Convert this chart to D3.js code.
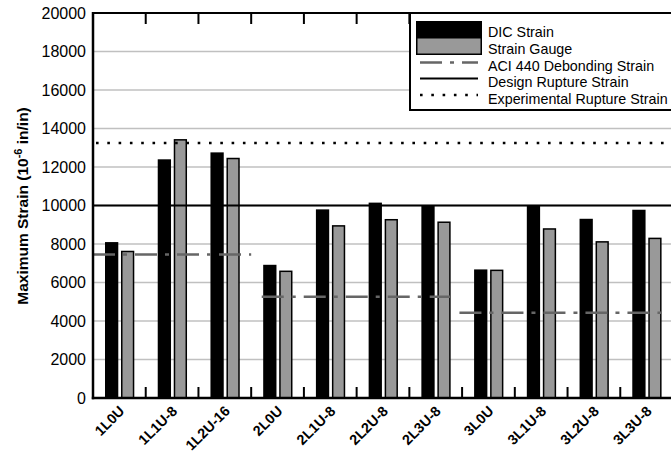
<!DOCTYPE html>
<html>
<head>
<meta charset="utf-8">
<script src="https://cdn.jsdelivr.net/npm/d3@7/dist/d3.min.js"></script>
<style>
  html, body { margin: 0; padding: 0; background: #fff; }
  svg { display: block; font-family: "Liberation Sans", Arial, sans-serif; }
</style>
</head>
<body>
<svg id="chart" width="671" height="453"></svg>
<script>
// Specimen names along the x axis
const categories = ["1L0U", "1L1U-8", "1L2U-16", "2L0U", "2L1U-8", "2L2U-8", "2L3U-8", "3L0U", "3L1U-8", "3L2U-8", "3L3U-8"];

// Maximum strain (microstrain) per specimen
const dicStrain   = [8100, 12400, 12760, 6920, 9800, 10150, 9980, 6680, 10000, 9310, 9780];
const gaugeStrain = [7650, 13450, 12480, 6620, 8980, 9300, 9170, 6670, 8820, 8150, 8330];

// ACI 440 debonding strain, one level per group of specimens (start/end in category units)
const aciStart = [0, 3.2, 6.95];
const aciEnd   = [3.0, 6.77, 10.82];
const aciValue = [7460, 5260, 4430];

// Horizontal reference levels
const designRupture = 10000;
const experimentalRupture = 13250;

// Axis ticks
const yTicks = [0, 2000, 4000, 6000, 8000, 10000, 12000, 14000, 16000, 18000, 20000];

const legendLabels = ["DIC Strain", "Strain Gauge", "ACI 440 Debonding Strain", "Design Rupture Strain", "Experimental Rupture Strain"];

const svg = d3.select("#chart");
const plotLeft = 93, plotRight = 673, plotTop = 13, plotBottom = 398;

const y = d3.scaleLinear().domain([0, 20000]).range([plotBottom, plotTop]);
const x = d3.scaleBand().domain(categories).range([plotLeft, plotRight]).padding(0);
const xc = d3.scaleLinear().domain([0, categories.length]).range([plotLeft, plotRight]);
const xs = d3.scaleBand().domain(["dic", "gauge"]).range([12, 41.3]).paddingInner(0.17);

// Gridlines
svg.append("g")
  .selectAll("line")
  .data(yTicks.filter(t => t > 0 && t < 20000))
  .join("line")
  .attr("x1", plotLeft).attr("x2", plotRight)
  .attr("y1", d => y(d)).attr("y2", d => y(d))
  .attr("stroke", "#c0c0c0").attr("stroke-width", 1.5);

// Y tick labels
svg.append("g")
  .selectAll("text")
  .data(yTicks)
  .join("text")
  .attr("x", 86).attr("y", d => y(d) + 5.8)
  .attr("text-anchor", "end")
  .attr("font-size", 16)
  .attr("fill", "#000")
  .text(d => d);

// Bars
const bars = svg.append("g");
bars.selectAll("rect.dic")
  .data(dicStrain)
  .join("rect")
  .attr("class", "dic")
  .attr("x", (d, i) => x(categories[i]) + xs("dic"))
  .attr("width", xs.bandwidth())
  .attr("y", d => y(d))
  .attr("height", d => plotBottom - y(d))
  .attr("fill", "#000");

bars.selectAll("rect.gauge")
  .data(gaugeStrain)
  .join("rect")
  .attr("class", "gauge")
  .attr("x", (d, i) => x(categories[i]) + xs("gauge") + 0.75)
  .attr("width", xs.bandwidth() - 1.5)
  .attr("y", d => y(d) + 0.75)
  .attr("height", d => plotBottom - y(d) - 0.75)
  .attr("fill", "#999999")
  .attr("stroke", "#000")
  .attr("stroke-width", 1.5);

// Reference lines
svg.append("line")
  .attr("x1", plotLeft).attr("x2", plotRight)
  .attr("y1", y(designRupture)).attr("y2", y(designRupture))
  .attr("stroke", "#000").attr("stroke-width", 2);

svg.append("line")
  .attr("x1", plotLeft + 3).attr("x2", plotRight)
  .attr("y1", y(experimentalRupture)).attr("y2", y(experimentalRupture))
  .attr("stroke", "#000").attr("stroke-width", 2.6)
  .attr("stroke-dasharray", "2.6,8.7");

svg.append("g")
  .selectAll("line")
  .data(aciValue)
  .join("line")
  .attr("x1", (d, i) => xc(aciStart[i]))
  .attr("x2", (d, i) => xc(aciEnd[i]))
  .attr("y1", d => y(d)).attr("y2", d => y(d))
  .attr("stroke", "#666").attr("stroke-width", 2.5)
  .attr("stroke-dasharray", "22,8,4,8");

// Frame: top border, left and bottom axes
svg.append("line").attr("x1", plotLeft).attr("x2", plotRight).attr("y1", plotTop).attr("y2", plotTop)
  .attr("stroke", "#000").attr("stroke-width", 2);
svg.append("line").attr("x1", plotLeft).attr("x2", plotLeft).attr("y1", plotTop - 1).attr("y2", plotBottom + 1.2)
  .attr("stroke", "#000").attr("stroke-width", 2.5);
svg.append("line").attr("x1", plotLeft - 1.2).attr("x2", plotRight).attr("y1", plotBottom).attr("y2", plotBottom)
  .attr("stroke", "#000").attr("stroke-width", 2.5);

// Inward tick marks between categories, on bottom and top
const boundaries = categories.slice(1).map(c => x(c));
svg.append("g").selectAll("line").data(boundaries).join("line")
  .attr("x1", d => d).attr("x2", d => d)
  .attr("y1", plotBottom).attr("y2", plotBottom - 11)
  .attr("stroke", "#000").attr("stroke-width", 2);
svg.append("g").selectAll("line").data(boundaries).join("line")
  .attr("x1", d => d).attr("x2", d => d)
  .attr("y1", plotTop).attr("y2", plotTop + 11)
  .attr("stroke", "#000").attr("stroke-width", 2);

// X labels, rotated
svg.append("g")
  .selectAll("text")
  .data(categories)
  .join("text")
  .attr("transform", d => `translate(${x(d) + x.bandwidth() / 2 + 6},${plotBottom + 14}) rotate(-45)`)
  .attr("text-anchor", "end")
  .attr("font-size", 14.3)
  .attr("font-weight", "bold")
  .text(d => d);

// Y axis title
const yTitle = svg.append("text")
  .attr("transform", `translate(27.5,206) rotate(-90)`)
  .attr("text-anchor", "middle")
  .attr("font-size", 15.5)
  .attr("font-weight", "bold");
yTitle.append("tspan").text("Maximum Strain (10");
yTitle.append("tspan").attr("dy", -6).attr("font-size", 11).text("-6");
yTitle.append("tspan").attr("dy", 6).text(" in/in)");

// Legend
const lg = svg.append("g");
lg.append("rect").attr("x", 410).attr("y", plotTop).attr("width", 290).attr("height", 97)
  .attr("fill", "#fff").attr("stroke", "#000").attr("stroke-width", 2);
lg.append("rect").attr("x", 416).attr("y", 21).attr("width", 66).attr("height", 16).attr("fill", "#000");
lg.append("rect").attr("x", 416.75).attr("y", 37.75).attr("width", 64.5).attr("height", 16.5)
  .attr("fill", "#999999").attr("stroke", "#000").attr("stroke-width", 1.5);
lg.append("line").attr("x1", 420).attr("x2", 478).attr("y1", 62.5).attr("y2", 62.5)
  .attr("stroke", "#666").attr("stroke-width", 2.5).attr("stroke-dasharray", "22,8,4,8");
lg.append("line").attr("x1", 420).attr("x2", 478).attr("y1", 78.5).attr("y2", 78.5)
  .attr("stroke", "#000").attr("stroke-width", 2);
lg.append("line").attr("x1", 420).attr("x2", 478).attr("y1", 95).attr("y2", 95)
  .attr("stroke", "#000").attr("stroke-width", 2.6).attr("stroke-dasharray", "2.6,8.7");
lg.selectAll("text.lbl")
  .data(legendLabels)
  .join("text")
  .attr("class", "lbl")
  .attr("x", 488)
  .attr("y", (d, i) => 37.3 + i * 16.65)
  .attr("font-size", 14.3)
  .text(d => d);
</script>
</body>
</html>
